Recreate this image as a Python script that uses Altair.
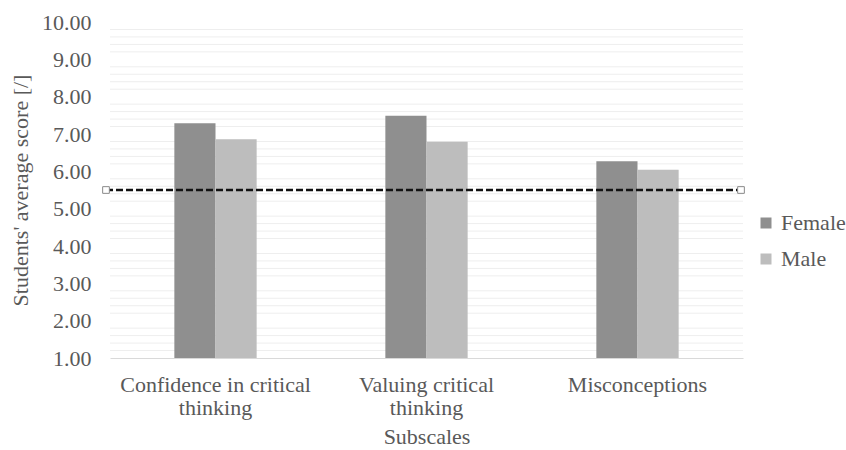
import altair as alt
import pandas as pd

subscales = ["Confidence in critical thinking", "Valuing critical thinking", "Misconceptions"]
wrapped = [["Confidence in critical", "thinking"], ["Valuing critical", "thinking"], ["Misconceptions"]]
genders = ["Female", "Male"]
female_scores = [7.29, 7.49, 6.27]
male_scores = [6.86, 6.79, 6.04]
reference_value = 5.5
major_ticks = [1, 2, 3, 4, 5, 6, 7, 8, 9, 10]
minor_ticks = [round(1 + 0.2 * i, 1) for i in range(46) if i % 5 != 0]

rows = []
for s, f, m in zip(subscales, female_scores, male_scores):
    rows.append({"Subscale": s, "Gender": "Female", "Score": f})
    rows.append({"Subscale": s, "Gender": "Male", "Score": m})
df = pd.DataFrame(rows)
ref = pd.DataFrame({"y": [reference_value]})
minor_df = pd.DataFrame({"Score": minor_ticks})

FONT = "Liberation Serif"
TXT = "#595959"
FS = 22
W, H = 633, 336

label_expr = " : ".join(
    f"datum.value == '{s}' ? {w!r}" for s, w in zip(subscales, wrapped)
) + " : datum.label"

yscale = alt.Scale(domain=[1, 10], nice=False, zero=False)
yaxis = alt.Axis(values=major_ticks, title="Students' average score [/]",
                 format=".2f", labelOverlap=False, labelBound=False, labelFlush=False,
                 gridColor="#d9d9d9", gridWidth=1, ticks=False, domain=False,
                 labelFontSize=FS, labelColor=TXT, labelFont=FONT, labelPadding=19,
                 titleFont=FONT, titleFontSize=FS, titleColor=TXT,
                 titleFontWeight="normal", titlePadding=9)

minor = alt.Chart(minor_df).mark_rule(color="#eeeeee", strokeWidth=1).encode(
    y=alt.Y("Score:Q", scale=yscale, axis=None), x=alt.value(0), x2=alt.value(W)
)

bars = alt.Chart(df).mark_bar().encode(
    x=alt.X("Subscale:N", sort=subscales,
            scale=alt.Scale(paddingInner=0.61, paddingOuter=0.305),
            axis=alt.Axis(title="Subscales", labelExpr=label_expr, labelAngle=0,
                          labelFontSize=FS, labelColor=TXT, labelFont=FONT, labelLimit=400,
                          labelLineHeight=23, labelPadding=16, ticks=False,
                          domain=True, domainColor="#d9d9d9",
                          titleFont=FONT, titleFontSize=FS, titleColor=TXT,
                          titleFontWeight="normal", titlePadding=8)),
    xOffset=alt.XOffset("Gender:N", sort=genders, scale=alt.Scale(paddingInner=0, paddingOuter=0)),
    y=alt.Y("Score:Q", scale=yscale, axis=yaxis),
    y2=alt.datum(1),
    color=alt.Color("Gender:N", sort=genders,
                    scale=alt.Scale(domain=genders, range=["#8f8f8f", "#bdbdbd"]),
                    legend=alt.Legend(title=None, orient="none", legendX=645, legendY=190,
                                      symbolType="square", symbolSize=121, symbolStrokeWidth=0,
                                      labelFont=FONT, labelFontSize=FS, labelColor=TXT,
                                      labelLimit=200, padding=0,
                                      rowPadding=14, labelOffset=4)),
)

line = alt.Chart(ref).mark_rule(color="#111111", strokeWidth=2.5, strokeDash=[7, 3]).encode(
    y=alt.Y("y:Q", scale=yscale, axis=None), x=alt.value(-4), x2=alt.value(W - 2)
)
ends = alt.Chart(ref).mark_point(shape="square", filled=True, fill="white", stroke="#8a8a8a",
                                 strokeWidth=1, size=45, opacity=1).encode(
    y=alt.Y("y:Q", scale=yscale, axis=None), x=alt.value(-4)
)
ends2 = alt.Chart(ref).mark_point(shape="square", filled=True, fill="white", stroke="#8a8a8a",
                                  strokeWidth=1, size=45, opacity=1).encode(
    y=alt.Y("y:Q", scale=yscale, axis=None), x=alt.value(W - 2)
)

chart = alt.layer(minor, bars, line, ends, ends2).resolve_axis(y="independent").properties(
    width=W, height=H, autosize=alt.AutoSizeParams(type="none"),
    padding={"left": 110, "top": 22, "right": 103, "bottom": 92},
    background="white",
).configure_view(stroke=None)

chart.save("out.html", embed_options={"renderer": "svg", "actions": False})
